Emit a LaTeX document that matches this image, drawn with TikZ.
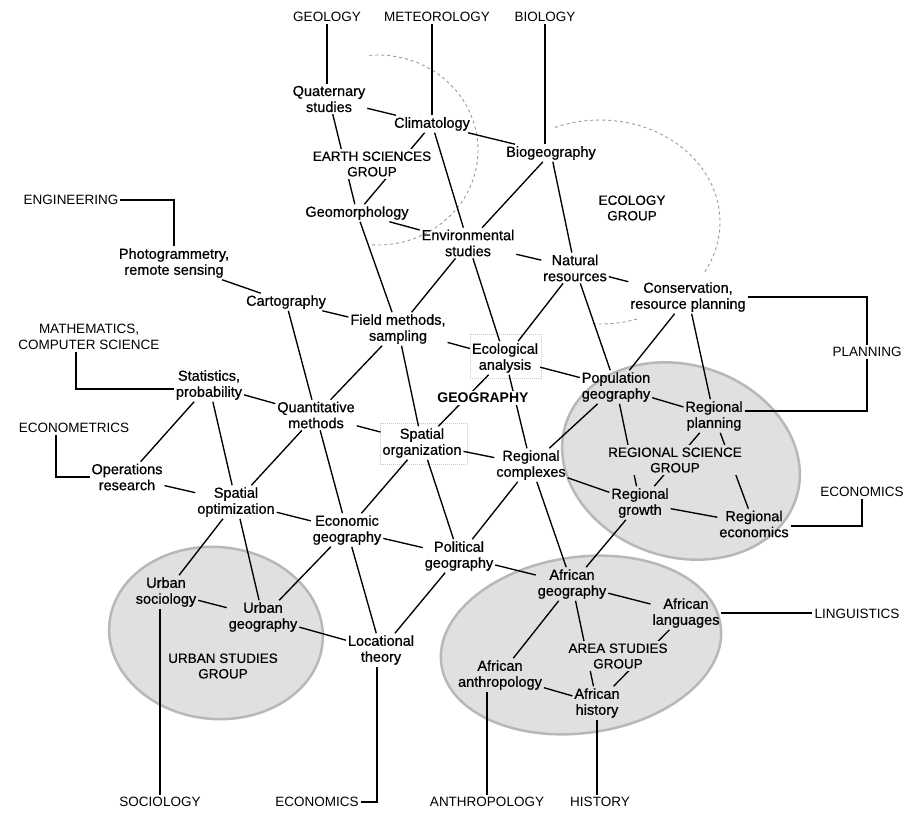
\documentclass[tikz,border=0pt]{standalone}
\usepackage{fontspec}
\setmainfont{Liberation Sans}
\newfontfamily\nodefont[FakeBold=0.7]{Liberation Sans}
\newfontfamily\grpfont[FakeBold=0.35]{Liberation Sans}
\usetikzlibrary{calc}
\begin{document}
\begin{tikzpicture}[x=1pt,y=-1pt,
  txt/.style={font=\nodefont\fontsize{14.5}{16}\selectfont, align=center, inner sep=1.8pt},
  caplab/.style={font=\fontsize{13.5}{15.5}\selectfont, align=center, inner sep=2pt},
  grplab/.style={font=\grpfont\fontsize{13.5}{15.5}\selectfont, align=center, inner sep=2pt},
  link/.style={line width=1.35pt, black},
  stip/.style={fill=black!12, draw=black!28, line width=2.5pt},
  faint/.style={draw=black!40, dashed, line width=0.9pt},
  fbox/.style={draw=black!22, densely dotted, line width=1pt},
]
\useasboundingbox (0,0) rectangle (910,814);
% group areas
\draw[stip, rotate around={-18:(681,461)}] (681,461) ellipse [x radius=121, y radius=96];
\draw[stip, rotate around={-5:(216,633)}] (216,633) ellipse [x radius=107, y radius=86];
\draw[stip, rotate around={8:(581,645)}] (581,645) ellipse [x radius=141, y radius=88];
\draw[faint] plot[domain=-95:95, samples=60] ({378+100*cos(\x)},{150+95*sin(\x)});
\draw[faint] plot[domain=-112:30, samples=60] ({600+120*cos(\x)},{222+102*sin(\x)});
\draw[faint] plot[domain=72:95, samples=20] ({600+120*cos(\x)},{222+102*sin(\x)});
\draw[fbox] (470,334) rectangle (541,378);
\draw[fbox] (380,423) rectangle (467,464);

% outside disciplines
\node[caplab] (geology) at (327,17) {GEOLOGY};
\node[caplab] (meteo) at (437,17) {METEOROLOGY};
\node[caplab] (biology) at (545,17) {BIOLOGY};
\node[caplab] (eng) at (71,200) {ENGINEERING};
\node[caplab] (math) at (89,337) {MATHEMATICS,\\COMPUTER SCIENCE};
\node[caplab] (ecmx) at (74,428) {ECONOMETRICS};
\node[caplab] (econr) at (862,492) {ECONOMICS};
\node[caplab] (ling) at (857,614) {LINGUISTICS};
\node[caplab] (soc) at (160,802) {SOCIOLOGY};
\node[caplab] (econb) at (317,802) {ECONOMICS};
\node[caplab] (anth) at (487,802) {ANTHROPOLOGY};
\node[caplab] (hist) at (600,802) {HISTORY};

% topics
\node[txt] (quat) at (329,99) {Quaternary\\studies};
\node[txt] (clim) at (432,124) {Climatology};
\node[txt] (biogeo) at (551,153) {Biogeography};
\node[txt] (geomorph) at (357,213) {Geomorphology};
\node[txt] (envst) at (468,243) {Environmental\\studies};
\node[txt] (natres) at (575,268) {Natural\\resources};
\node[txt] (conserv) at (688,297) {Conservation,\\resource planning};
\node[txt] (photo) at (174,263) {Photogrammetry,\\remote sensing};
\node[txt] (carto) at (286,302) {Cartography};
\node[txt] (field) at (398,329) {Field methods,\\sampling};
\node[txt] (ecoan) at (505,358) {Ecological\\analysis};
\node[txt] (popgeo) at (616,387) {Population\\geography};
\node[txt] (stat) at (209,385) {Statistics,\\probability};
\node[txt] (quant) at (316,415) {Quantitative\\methods};
\node[txt] (regplan) at (714,416) {Regional\\planning};
\node[txt] (spatorg) at (422,443) {Spatial\\organization};
\node[txt] (regcomp) at (531,465) {Regional\\complexes};
\node[txt] (ops) at (127,477) {Operations\\research};
\node[txt] (spatopt) at (236,502) {Spatial\\optimization};
\node[txt] (reggrowth) at (640,503) {Regional\\growth};
\node[txt] (regecon) at (754,524) {Regional\\economics};
\node[txt] (econgeo) at (347,530) {Economic\\geography};
\node[txt] (polgeo) at (459,556) {Political\\geography};
\node[txt] (afgeo) at (572,584) {African\\geography};
\node[txt] (urbsoc) at (166,592) {Urban\\sociology};
\node[txt] (aflang) at (686,613) {African\\languages};
\node[txt] (urbgeo) at (263,617) {Urban\\geography};
\node[txt] (loc) at (381,650) {Locational\\theory};
\node[txt] (afanth) at (500,675) {African\\anthropology};
\node[txt] (afhist) at (597,703) {African\\history};

% connectors between topics
\draw[link] (quat) -- (clim);
\draw[link] (quat) -- (geomorph);
\draw[link] (clim) -- (geomorph);
\draw[link] (clim) -- (biogeo);
\draw[link] (clim) -- (envst);
\draw[link] (biogeo) -- (envst);
\draw[link] (biogeo) -- (natres);
\draw[link] (geomorph) -- (envst);
\draw[link] (geomorph) -- (field);
\draw[link] (envst) -- (natres);
\draw[link] (envst) -- (field);
\draw[link] (envst) -- (ecoan);
\draw[link] (natres) -- (conserv);
\draw[link] (natres) -- (ecoan);
\draw[link] (natres) -- (popgeo);
\draw[link] (conserv) -- (popgeo);
\draw[link] (conserv) -- (regplan);
\draw[link] (photo) -- (carto);
\draw[link] (carto) -- (field);
\draw[link] (carto) -- (quant);
\draw[link] (field) -- (quant);
\draw[link] (field) -- (spatorg);
\draw[link] (field) -- (ecoan);
\draw[link] (ecoan) -- (popgeo);
\draw[link] (ecoan) -- (spatorg);
\draw[link] (ecoan) -- (regcomp);
\draw[link] (popgeo) -- (regplan);
\draw[link] (popgeo) -- (regcomp);
\draw[link] (popgeo) -- (reggrowth);
\draw[link] (regplan) -- (reggrowth);
\draw[link] (regplan) -- (regecon);
\draw[link] (stat) -- (quant);
\draw[link] (stat) -- (ops);
\draw[link] (stat) -- (spatopt);
\draw[link] (quant) -- (spatorg);
\draw[link] (quant) -- (spatopt);
\draw[link] (quant) -- (econgeo);
\draw[link] (spatorg) -- (regcomp);
\draw[link] (spatorg) -- (econgeo);
\draw[link] (spatorg) -- (polgeo);
\draw[link] (regcomp) -- (reggrowth);
\draw[link] (regcomp) -- (polgeo);
\draw[link] (regcomp) -- (afgeo);
\draw[link] (reggrowth) -- (regecon);
\draw[link] (reggrowth) -- (afgeo);
\draw[link] (ops) -- (spatopt);
\draw[link] (spatopt) -- (econgeo);
\draw[link] (spatopt) -- (urbsoc);
\draw[link] (spatopt) -- (urbgeo);
\draw[link] (econgeo) -- (polgeo);
\draw[link] (econgeo) -- (urbgeo);
\draw[link] (econgeo) -- (loc);
\draw[link] (polgeo) -- (afgeo);
\draw[link] (polgeo) -- (loc);
\draw[link] (urbsoc) -- (urbgeo);
\draw[link] (urbgeo) -- (loc);
\draw[link] (afgeo) -- (aflang);
\draw[link] (afgeo) -- (afanth);
\draw[link] (afgeo) -- (afhist);
\draw[link] (aflang) -- (afhist);
\draw[link] (afanth) -- (afhist);

% connectors to outside disciplines
\draw[link] (geology.south) -- (geology.south |- quat.north);
\draw[link] (clim.north |- meteo.south) -- (clim.north);
\draw[link] (biology.south) -- (biology.south |- biogeo.north);
\draw[link] (eng.east) -| (photo.north);
\draw[link] ([xshift=-13pt]math.south) |- ([yshift=-4pt]stat.west);
\draw[link] ([xshift=-18pt]ecmx.south) |- (ops.west);
\node[caplab] (plan) at (867,352) {PLANNING};
\draw[link] (conserv.east) -| (plan.north);
\draw[link] ([yshift=5pt]regplan.east) -| (plan.south);
\draw[link] ([yshift=-2pt]regecon.east) -| (econr.south);
\draw[link] (aflang.east) -- (aflang.east -| ling.west);
\draw[link] ([xshift=-4pt]loc.south) |- (econb.east);
\draw[link] (urbsoc.south -| soc.north) -- (soc.north);
\draw[link] (afanth.south -| anth.north) -- (anth.north);
\draw[link] (afhist.south) -- (afhist.south |- hist.north);

% group labels (drawn last, covering the lines that pass under them)
\node[grplab, fill=white] (esg) at (372,164) {EARTH SCIENCES\\GROUP};
\node[grplab] (ecog) at (632,208) {ECOLOGY\\GROUP};
\node[grplab, fill=white, font=\bfseries\fontsize{14}{16}\selectfont] (geog) at (483,398) {GEOGRAPHY};
\node[grplab, fill=black!12] (rsg) at (675,460) {REGIONAL SCIENCE\\GROUP};
\node[grplab] (usg) at (223,666) {URBAN STUDIES\\GROUP};
\node[grplab, fill=black!12] (asg) at (618,656) {AREA STUDIES\\GROUP};
\end{tikzpicture}
\end{document}
